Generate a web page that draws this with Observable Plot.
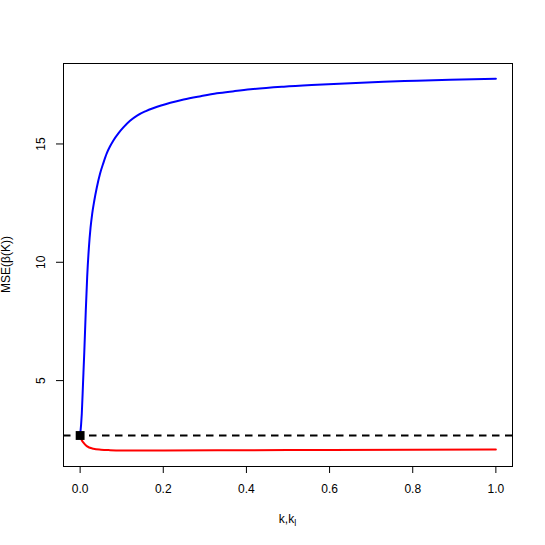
<!DOCTYPE html>
<html>
<head>
<meta charset="utf-8">
<script src="https://cdn.jsdelivr.net/npm/d3@7"></script>
<script src="https://cdn.jsdelivr.net/npm/@observablehq/plot@0.6"></script>
<style>
  html, body { margin: 0; padding: 0; background: #fff; }
  #chart svg { display: block; }
</style>
</head>
<body>
<div id="chart"></div>
<script>
// Blue curve (k values and MSE)
const blueK = [0, 0.004, 0.007, 0.010, 0.0135, 0.017, 0.021, 0.025, 0.029, 0.034, 0.040, 0.048, 0.056, 0.064, 0.072, 0.080, 0.092, 0.104, 0.12, 0.137, 0.157, 0.177, 0.217, 0.249, 0.29, 0.329, 0.37, 0.41, 0.49, 0.57, 0.65, 0.73, 0.81, 0.89, 1.0];
const blueMSE = [2.68, 3.6, 4.9, 6.2, 7.9, 9.4, 10.6, 11.45, 12.05, 12.6, 13.15, 13.75, 14.2, 14.6, 14.9, 15.15, 15.45, 15.7, 15.98, 16.2, 16.38, 16.52, 16.74, 16.88, 17.02, 17.14, 17.23, 17.31, 17.42, 17.50, 17.57, 17.63, 17.67, 17.71, 17.76];
// Red curve (k_l values and MSE)
const redK = [0, 0.004, 0.008, 0.016, 0.032, 0.05, 0.072, 0.1, 0.2, 0.4, 0.6, 0.8, 1.0];
const redMSE = [2.68, 2.48, 2.38, 2.23, 2.12, 2.08, 2.06, 2.05, 2.05, 2.06, 2.07, 2.08, 2.09];
// Reference (OLS) MSE
const olsMSE = [2.68];
const xTicks = [0, 0.2, 0.4, 0.6, 0.8, 1.0];
const yTicks = [5, 10, 15];

const blue = blueK.map((k, i) => ({k, v: blueMSE[i]}));
const red = redK.map((k, i) => ({k, v: redMSE[i]}));

const font = "Liberation Sans, Arial, Helvetica, sans-serif";

const plot = Plot.plot({
  width: 545,
  height: 545,
  marginLeft: 63,
  marginRight: 33,
  marginTop: 63,
  marginBottom: 79,
  style: {fontFamily: font, fontSize: "12px", background: "#fff", color: "#000"},
  x: {domain: [-0.04, 1.04], label: null},
  y: {domain: [1.37, 18.4], label: null},
  marks: [
    Plot.ruleY(olsMSE, {stroke: "#000", strokeWidth: 2, strokeDasharray: "7.5,5.5"}),
    Plot.line(red, {x: "k", y: "v", stroke: "#FF0000", strokeWidth: 2, curve: "monotone-x"}),
    Plot.line(blue, {x: "k", y: "v", stroke: "#0000FF", strokeWidth: 2, curve: "monotone-x"}),
    Plot.dot([{k: 0, v: olsMSE[0]}], {x: "k", y: "v", symbol: "square", r: 5, fill: "#000", stroke: null}),
    Plot.frame({stroke: "#000", strokeWidth: 1}),
    Plot.axisX(xTicks, {tickSize: 7, tickPadding: 11, tickFormat: d3.format(".1f"), fontSize: 12, label: null}),
    Plot.axisY(yTicks, {tickSize: 7, tickFormat: d => String(d), text: null, label: null}),
    Plot.text(yTicks, {y: d => d, text: d => String(d), frameAnchor: "left", rotate: -90, dx: -22, fontSize: 12, textAnchor: "middle"})
  ]
});

const svg = d3.select(plot);
// x-axis title with subscript
const xt = svg.append("text")
  .attr("x", 287.5).attr("y", 523)
  .attr("text-anchor", "middle")
  .attr("font-family", font).attr("font-size", 12).attr("fill", "#000");
xt.append("tspan").text("k,k");
xt.append("tspan").attr("font-size", 9).attr("dy", 3).text("l");
// y-axis title
svg.append("text")
  .attr("transform", "translate(10,264.5) rotate(-90)")
  .attr("text-anchor", "middle")
  .attr("font-family", font).attr("font-size", 12).attr("fill", "#000")
  .text("MSE(β(K))");

document.getElementById("chart").appendChild(plot);
</script>
</body>
</html>
